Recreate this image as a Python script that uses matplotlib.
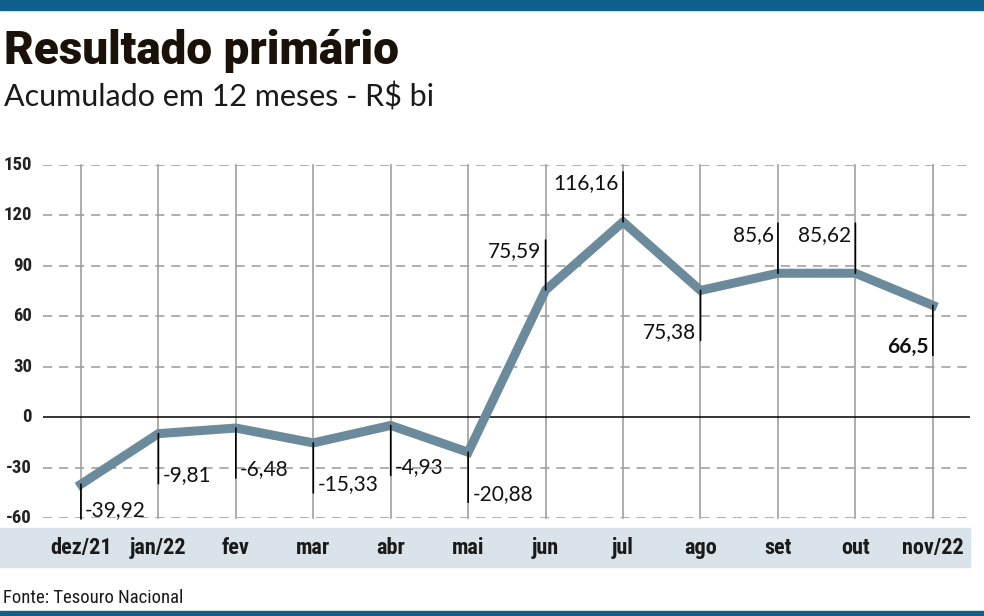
import matplotlib
matplotlib.use("Agg")
import matplotlib.pyplot as plt
from matplotlib.patches import Rectangle
from matplotlib import font_manager as fm
from matplotlib.transforms import blended_transform_factory

months = ["dez/21", "jan/22", "fev", "mar", "abr", "mai", "jun", "jul", "ago", "set", "out", "nov/22"]
values = [-39.92, -9.81, -6.48, -15.33, -4.93, -20.88, 75.59, 116.16, 75.38, 85.6, 85.62, 66.5]
value_labels = ["-39,92", "-9,81", "-6,48", "-15,33", "-4,93", "-20,88", "75,59", "116,16", "75,38", "85,6", "85,62", "66,5"]
yticks = [-60, -30, 0, 30, 60, 90, 120, 150]

fonts = fm.fontManager.ttflist
names = {f.name for f in fonts}
cond = None
for pref in ["Roboto Condensed", "Liberation Sans Narrow", "Open Sans Condensed", "DejaVu Sans Condensed", "Noto Sans Condensed"]:
    if pref in names:
        cond = pref
        break
if cond is None:
    for f in fonts:
        if ("Condensed" in f.name or "Narrow" in f.name):
            cond = f.name
            break
cond_stretch = "normal"
if cond is None:
    for f in fonts:
        if f.stretch in ("condensed", "semi-condensed") or (isinstance(f.stretch, int) and f.stretch < 500):
            cond = f.name
            cond_stretch = "condensed"
            break
if cond is None:
    cond = "DejaVu Sans"
light = "Lato" if "Lato" in names else "DejaVu Sans"
heavy = "Roboto" if "Roboto" in names else "DejaVu Sans"

W, H = 984, 616
fig = plt.figure(figsize=(W / 100, H / 100), dpi=100)

def fx(px):
    return px / W

def fy(py):
    return 1 - py / H

# top / bottom bars
fig.patches.append(Rectangle((0, fy(10)), 1, 10 / H, transform=fig.transFigure, color="#0e5f8c", zorder=-1))
fig.patches.append(Rectangle((0, 0), 1, 5 / H, transform=fig.transFigure, color="#0e5f8c", zorder=-1))
# category band
fig.patches.append(Rectangle((0, fy(567)), fx(970), 39 / H, transform=fig.transFigure, color="#dbe3ea", zorder=-1))

ax = fig.add_axes([fx(43), fy(518), fx(970) - fx(43), fy(165) - fy(518)])
ax.set_xlim(-0.49, 11.48)
ax.set_ylim(-60, 150)
ax.axis("off")

for t in yticks:
    if t == 0:
        ax.axhline(0, color="black", lw=1.1, zorder=2)
    else:
        ax.axhline(t, color="#9a9a9a", lw=1.1, dashes=(6, 4.5), zorder=1)
for i in range(len(months)):
    ax.plot([i, i], [-60, 150], color="#a0a0a0", lw=1.2, zorder=1, clip_on=False)

x = list(range(len(months)))
ax.plot(x, values, color="#6b8a9b", lw=6.5, solid_joinstyle="miter", zorder=4)

# y tick labels
ytr = blended_transform_factory(fig.transFigure, ax.transData)
for t in yticks:
    ax.text(fx(32), t, f"{t}", transform=ytr, ha="right", va="center",
            fontsize=13.5, fontweight="bold", family=[cond, "DejaVu Sans"], fontstretch=cond_stretch,
            color="#222222", clip_on=False)

# annotations
down = [True, True, True, True, True, True, False, False, True, False, False, True]
for i, (v, lab, d) in enumerate(zip(values, value_labels, down)):
    L = 36
    if i == 0:
        L = 25
    ax.annotate("", xy=(i, v), xytext=(0, -L if d else L), textcoords="offset points",
                arrowprops=dict(arrowstyle="-", color="black", lw=1.2, shrinkA=0, shrinkB=0), zorder=5)
    left_side = i >= 6
    ha = "right" if left_side else "left"
    dx = -3 if left_side else 3
    dy = -L - 1 if d else L - 1
    va = "bottom" if d else "top"
    bold = i == len(values) - 1
    ax.annotate(lab, xy=(i, v), xytext=(dx, dy), textcoords="offset points", ha=ha, va=va,
                fontsize=15, fontweight="bold" if bold else "normal",
                family=[light, "DejaVu Sans"], color="#111111", zorder=6, annotation_clip=False)

# category labels
ctr = blended_transform_factory(ax.transData, fig.transFigure)
for i, m in enumerate(months):
    ax.text(i, fy(548), m, transform=ctr, ha="center", va="center",
            fontsize=16, fontweight="bold", family=[cond, "DejaVu Sans"], fontstretch=cond_stretch,
            color="#1a1a1a", clip_on=False)

fig.text(fx(4), fy(64), "Resultado primário", fontsize=33, fontweight="black",
         family=[heavy, "DejaVu Sans"], color="#1a1208", ha="left", va="baseline")
fig.text(fx(4), fy(107), "Acumulado em 12 meses - R$ bi", fontsize=22, fontweight="normal",
         family=[light, "DejaVu Sans"], color="#1a1a1a", ha="left", va="baseline")
fig.text(fx(3), fy(603), "Fonte: Tesouro Nacional", fontsize=13.5,
         family=[cond, "DejaVu Sans"], fontstretch=cond_stretch, color="#1a1a1a", ha="left", va="baseline")

fig.savefig("out.png", dpi=100)
